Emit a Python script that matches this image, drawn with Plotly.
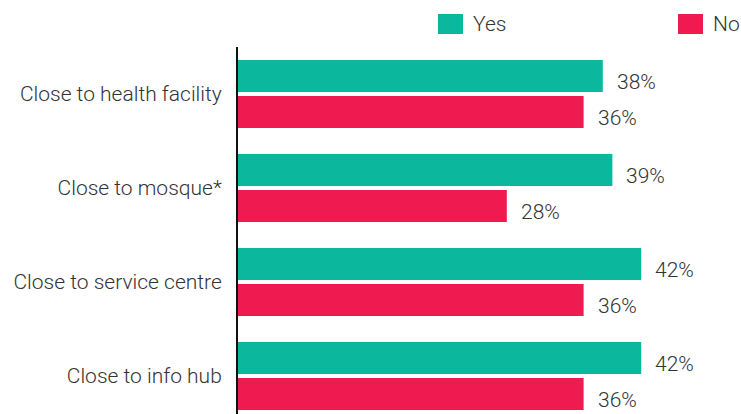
import plotly.graph_objects as go

categories = ["Close to health facility", "Close to mosque*", "Close to service centre", "Close to info hub"]
series_names = ["Yes", "No"]
yes_values = [38, 39, 42, 42]
no_values = [36, 28, 36, 36]
colors = ["#0bb89e", "#ef1a4f"]

W, H = 741, 414
L, T = 238, 47
px_per_pct = 9.6
x_max = (W - L) / px_per_pct

font = dict(family="Roboto, sans-serif", size=21, color="#333333", weight=300)

fig = go.Figure()
for name, vals, col in zip(series_names, [yes_values, no_values], colors):
    fig.add_trace(go.Bar(
        y=categories, x=vals, name=name, orientation="h",
        marker=dict(color=col, line=dict(width=0)),
        showlegend=False,
    ))

# value labels to the right of each bar (Yes sits above, No below the group centre)
series_shift = [12, -24]
for vals, ys in zip([yes_values, no_values], series_shift):
    for cat, v in zip(categories, vals):
        fig.add_annotation(x=v, y=cat, text=f"{v}%", showarrow=False,
                           xanchor="left", yanchor="middle",
                           xshift=12, yshift=ys, font=font)

# legend drawn as swatches with labels above the plot
plot_w = W - L
plot_h = H - T
def xp(px):
    return (px - L) / plot_w
def yp(py):
    return (H - py) / plot_h

legend_x = [438, 678]
for name, col, lx in zip(series_names, colors, legend_x):
    fig.add_shape(type="rect", xref="paper", yref="paper",
                  x0=xp(lx), x1=xp(lx + 25), y0=yp(34), y1=yp(14),
                  fillcolor=col, line=dict(width=0))
    fig.add_annotation(xref="paper", yref="paper", x=xp(lx + 33), y=yp(24),
                       text=name, showarrow=False, xanchor="left", yanchor="middle",
                       font=font)

fig.update_layout(
    width=W, height=H,
    margin=dict(l=L, r=0, t=T, b=0),
    paper_bgcolor="white", plot_bgcolor="white",
    barmode="group", bargap=0.234, bargroupgap=1 / 9,
    font=font,
    xaxis=dict(range=[0, x_max], showgrid=False, zeroline=False,
               showticklabels=False, showline=False, fixedrange=True),
    yaxis=dict(range=[3.5 - 9 / 94, -0.5], autorange=False,
               showgrid=False, zeroline=False, showline=True,
               linecolor="#111111", linewidth=2, ticks="",
               ticklabelstandoff=10, tickfont=font),
)

fig.write_html("out.html")
